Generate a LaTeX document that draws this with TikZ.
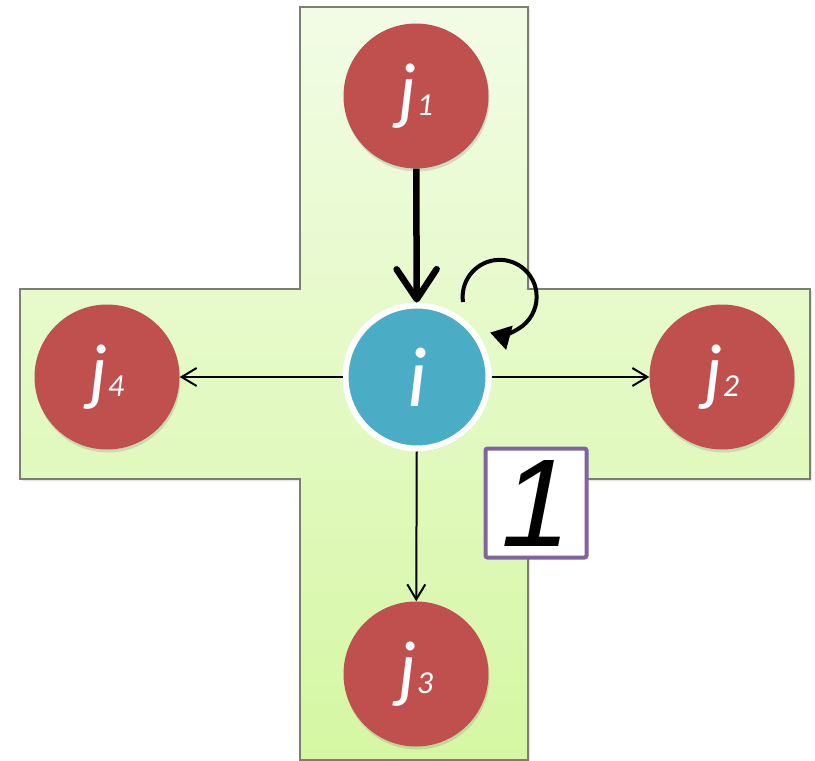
\documentclass[tikz,border=0pt]{standalone}
\usepackage{fontspec}
\setmainfont{Carlito}
\newfontfamily\arialf{Liberation Sans}
\usetikzlibrary{arrows.meta,shadows}
\definecolor{jred}{HTML}{C0504D}
\definecolor{iblue}{HTML}{4BACC6}
\definecolor{boxpurple}{HTML}{8064A2}
\definecolor{crosstop}{HTML}{F2FCE5}
\definecolor{crossbot}{HTML}{D5F7A3}
\definecolor{crossline}{HTML}{7A7F72}
\newcommand{\jlab}[1]{{\fontsize{75}{80}\selectfont\itshape j\fontsize{32}{32}\selectfont #1}}
\tikzset{
  jnode/.style={circle, fill=jred, minimum size=145pt, inner sep=0pt, text=white,
    drop shadow={opacity=0.25, shadow xshift=1pt, shadow yshift=-3pt}},
  inode/.style={circle, fill=iblue, draw=white, line width=6pt, minimum size=143pt, inner sep=0pt, text=white,
    drop shadow={opacity=0.25, shadow xshift=1pt, shadow yshift=-3pt}},
  numbox/.style={draw=boxpurple, line width=4pt, fill=white, rounded corners=2pt,
    minimum width=101pt, minimum height=109pt, inner sep=0pt},
  thickarrow/.style={line width=6.5pt, -{Straight Barb[round,length=30pt,width=40pt]}},
  thinarrow/.style={line width=2pt, -{Straight Barb[length=15pt,width=18pt]}},
  looparrow/.style={line width=4pt, -{Triangle[length=20pt,width=24pt]}},
}
\begin{document}
\begin{tikzpicture}[x=1pt,y=-1pt]
\useasboundingbox (0,0) rectangle (815,761);
% cross background
\shade[top color=crosstop, bottom color=crossbot, drop shadow={opacity=0.2, shadow xshift=2pt, shadow yshift=-2pt}]
  (300,7) -- (528,7) -- (528,289) -- (810,289) -- (810,479) -- (528,479) -- (528,760)
  -- (300,760) -- (300,479) -- (20,479) -- (20,289) -- (300,289) -- cycle;
\draw[crossline, line width=2pt]
  (300,7) -- (528,7) -- (528,289) -- (810,289) -- (810,479) -- (528,479) -- (528,760)
  -- (300,760) -- (300,479) -- (20,479) -- (20,289) -- (300,289) -- cycle;
% nodes
\node[jnode] (j1) at (416,96) {\jlab{1}};
\node[jnode] (j2) at (722,377) {\jlab{2}};
\node[jnode] (j3) at (416,674) {\jlab{3}};
\node[jnode] (j4) at (107,377) {\jlab{4}};
\node[inode] (i) at (417,377) {\fontsize{85}{90}\selectfont\itshape i};
\node[numbox] (one) at (536,503) {\arialf\itshape\fontsize{125}{125}\selectfont 1};
% connectors
\draw[thickarrow] (j1) -- (i);
\draw[thinarrow] (i) -- (j4);
\draw[thinarrow] (i) -- (j2);
\draw[thinarrow] (i) -- (j3);
\coordinate (loopstart) at (463,302);
\draw[looparrow] (loopstart) arc[start angle=172, end angle=465, radius=37];
\end{tikzpicture}
\end{document}
